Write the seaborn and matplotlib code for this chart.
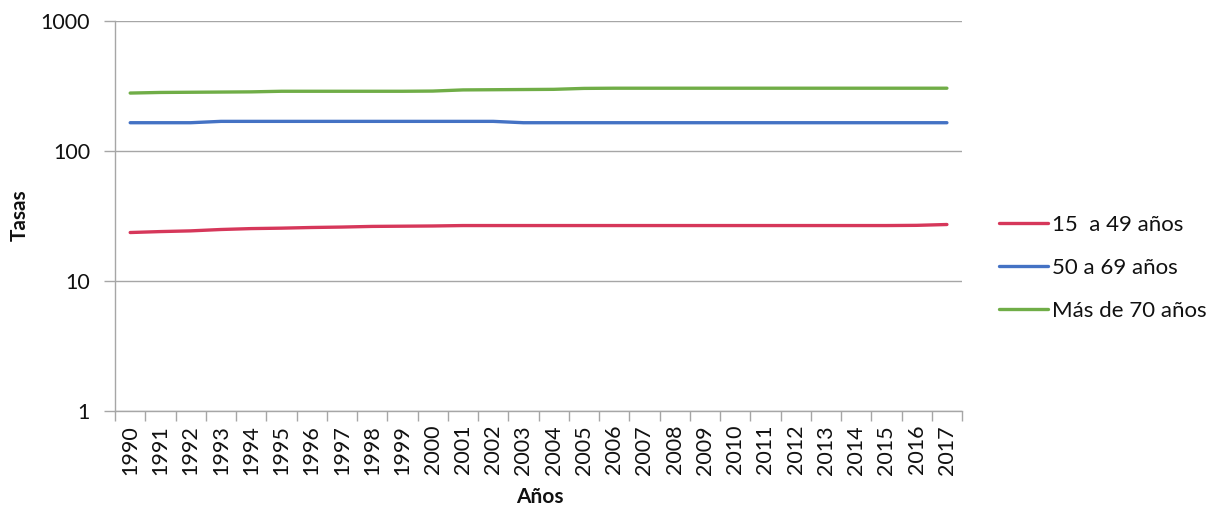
import matplotlib
matplotlib.use("Agg")
import matplotlib.pyplot as plt
from matplotlib.ticker import FixedLocator, NullFormatter, FixedFormatter
import seaborn as sns
import pandas as pd

years = [str(y) for y in range(1990, 2018)]

tasa_15_49 = [23.6, 24.0, 24.3, 24.9, 25.3, 25.5, 25.8, 26.0, 26.3, 26.4,
              26.5, 26.7, 26.7, 26.7, 26.7, 26.7, 26.7, 26.7, 26.7, 26.7,
              26.7, 26.7, 26.7, 26.7, 26.7, 26.7, 26.8, 27.2]
tasa_50_69 = [165, 165, 165, 169, 169, 169, 169, 169, 169, 169,
              169, 169, 169, 165, 165, 165, 165, 165, 165, 165,
              165, 165, 165, 165, 165, 165, 165, 165]
tasa_70_mas = [279, 282, 283, 284, 285, 288, 288, 288, 288, 288,
               289, 295, 296, 297, 298, 303, 304, 304, 304, 304,
               304, 304, 304, 304, 304, 304, 304, 304]

series_names = ["15  a 49 años", "50 a 69 años", "Más de 70 años"]
series_colors = ["#D6375A", "#4472C4", "#70AD47"]
y_ticks = [1, 10, 100, 1000]
y_tick_labels = ["1", "10", "100", "1000"]

df = pd.concat([
    pd.DataFrame({"Año": years, "Tasa": vals, "Grupo": name})
    for name, vals in zip(series_names, [tasa_15_49, tasa_50_69, tasa_70_mas])
], ignore_index=True)

sns.set_theme(style="white")
plt.rcParams["font.family"] = ["Lato", "DejaVu Sans"]

fig = plt.figure(figsize=(12.15, 5.08), dpi=100)
ax = fig.add_axes([0.0947, 0.1909, 0.6971, 0.7678])

sns.lineplot(data=df, x="Año", y="Tasa", hue="Grupo", hue_order=series_names,
             palette=series_colors, linewidth=2.4, ax=ax, sort=False)

ax.set_yscale("log")
ax.set_ylim(1, 1000)
ax.set_xlim(-0.5, len(years) - 0.5)

grid_color = "#A6A6A6"
text_color = "#111111"
ax.yaxis.set_major_locator(FixedLocator(y_ticks))
ax.yaxis.set_major_formatter(FixedFormatter(y_tick_labels))
ax.yaxis.set_minor_locator(FixedLocator([]))
ax.grid(axis="y", which="major", color=grid_color, linewidth=1.0)
ax.set_axisbelow(True)

# category boundaries carry the tick marks, centers carry the labels
n = len(years)
ax.xaxis.set_major_locator(FixedLocator([i - 0.5 for i in range(n + 1)]))
ax.xaxis.set_major_formatter(NullFormatter())
ax.xaxis.set_minor_locator(FixedLocator(list(range(n))))
ax.xaxis.set_minor_formatter(FixedFormatter(years))
ax.tick_params(axis="x", which="major", direction="out", length=7, width=1,
               color=grid_color, bottom=True)
ax.tick_params(axis="x", which="minor", length=0, labelsize=15.5, pad=10,
               labelrotation=90, labelcolor=text_color, bottom=True)
ax.tick_params(axis="y", which="major", direction="out", length=8, width=1,
               color=grid_color, labelsize=15.5, labelcolor=text_color, pad=10, left=True)

for side in ["top", "right"]:
    ax.spines[side].set_visible(False)
for side in ["left", "bottom"]:
    ax.spines[side].set_color(grid_color)
    ax.spines[side].set_linewidth(1.0)

ax.set_xlabel("Años", fontsize=15, fontweight="bold", color=text_color)
ax.set_ylabel("Tasas", fontsize=15, fontweight="bold", color=text_color)
ax.xaxis.set_label_coords(0.502, -0.22)
ax.xaxis.label.set_va("center")
ax.yaxis.set_label_coords(-0.112, 0.503)
ax.yaxis.label.set_va("center")

leg = ax.legend(loc="center left", bbox_to_anchor=(1.02, 0.367), frameon=False,
                fontsize=16, handlelength=2.2, handletextpad=0.2, labelspacing=1.05,
                labelcolor=text_color)
for line in leg.get_lines():
    line.set_linewidth(2.4)

fig.savefig("out.png", dpi=100)
